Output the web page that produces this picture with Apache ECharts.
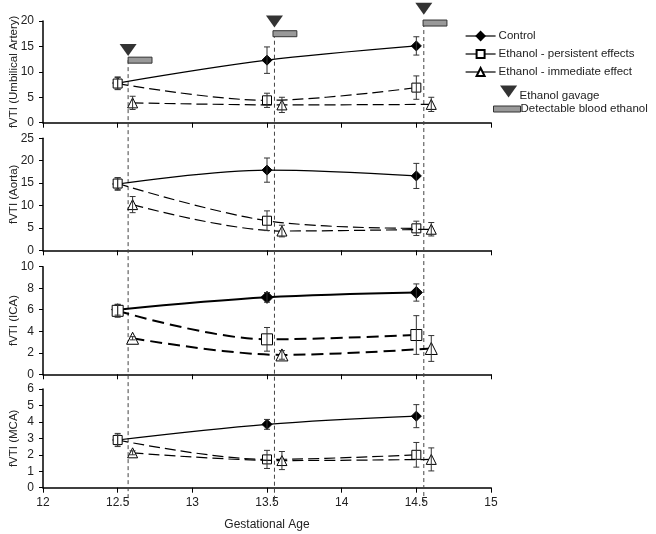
<!DOCTYPE html>
<html>
<head>
<meta charset="utf-8">
<script src="https://cdn.jsdelivr.net/npm/echarts@6/dist/echarts.min.js"></script>
<style>html,body{margin:0;padding:0;background:#fff;}#c{width:656px;height:534px;}</style>
</head>
<body>
<div id="c"></div>
<script>
// ---------- data ----------
const xMain = [12.5, 13.5, 14.5];
const xImm = [12.6, 13.6, 14.6];
const seriesNames = ['Control', 'Ethanol - persistent effects', 'Ethanol - immediate effect'];
const panelNames = ['fVTI (Umbilical Artery)', 'fVTI (Aorta)', 'fVTI (ICA)', 'fVTI (MCA)'];
const yMax = [20, 25, 10, 6];
const yStep = [5, 5, 2, 1];
const xTicks = [12, 12.5, 13, 13.5, 14, 14.5, 15];

const uaControl = [7.8, 12.3, 15.1],   uaControlErr = [1.2, 2.6, 1.8];
const uaPersist = [7.7, 4.4, 6.9],     uaPersistErr = [1.2, 1.4, 2.3];
const uaImmed   = [3.9, 3.5, 3.6],     uaImmedErr   = [1.3, 1.5, 1.4];

const aoControl = [14.8, 17.9, 16.6],  aoControlErr = [1.4, 2.7, 2.8];
const aoPersist = [14.9, 6.6, 4.9],    aoPersistErr = [1.3, 2.2, 1.6];
const aoImmed   = [10.2, 4.3, 4.7],    aoImmedErr   = [1.8, 1.3, 1.5];

const icaControl = [6.0, 7.15, 7.6],   icaControlErr = [0.5, 0.45, 0.8];
const icaPersist = [5.9, 3.25, 3.65],  icaPersistErr = [0.6, 1.1, 1.8];
const icaImmed   = [3.35, 1.8, 2.4],   icaImmedErr   = [0.15, 0.4, 1.2];

const mcaControl = [2.9, 3.85, 4.35],  mcaControlErr = [0.4, 0.3, 0.7];
const mcaPersist = [2.9, 1.72, 2.0],   mcaPersistErr = [0.3, 0.55, 0.75];
const mcaImmed   = [2.12, 1.65, 1.72], mcaImmedErr   = [0.12, 0.55, 0.7];

// ethanol events (values on the umbilical-artery scale)
const gavageX = [12.57, 13.55, 14.55];
const gavageY = [14.3, 19.9, 22.4];
const bloodStart = [12.57, 13.54, 14.545];
const bloodEnd = [12.73, 13.70, 14.705];
const bloodY = [12.3, 17.5, 19.6];
const guideBottom = -75; // vertical guide lines extend below the bottom panel

const panels = [
  [uaControl, uaControlErr, uaPersist, uaPersistErr, uaImmed, uaImmedErr],
  [aoControl, aoControlErr, aoPersist, aoPersistErr, aoImmed, aoImmedErr],
  [icaControl, icaControlErr, icaPersist, icaPersistErr, icaImmed, icaImmedErr],
  [mcaControl, mcaControlErr, mcaPersist, mcaPersistErr, mcaImmed, mcaImmedErr]
];

// ---------- layout ----------
const gridTops = [21, 138.3, 266.7, 389];
const gridHeights = [101.7, 112, 107.6, 98.7];
const FONT = 'Liberation Sans, Arial, sans-serif';
const TXT = '#222';

const grids = [], xAxes = [], yAxes = [], series = [];

function errRender(params, api) {
  const x = api.value(0), lo = api.value(1), hi = api.value(2);
  const p1 = api.coord([x, lo]), p2 = api.coord([x, hi]);
  const w = 3;
  const st = {stroke: '#333', lineWidth: 1};
  return {type: 'group', children: [
    {type: 'line', shape: {x1: p1[0], y1: p1[1], x2: p2[0], y2: p2[1]}, style: st},
    {type: 'line', shape: {x1: p1[0]-w, y1: p1[1], x2: p1[0]+w, y2: p1[1]}, style: st},
    {type: 'line', shape: {x1: p2[0]-w, y1: p2[1], x2: p2[0]+w, y2: p2[1]}, style: st}
  ]};
}

panels.forEach((p, i) => {
  const last = i === 3;
  const big = i === 2;
  grids.push({left: 43, width: 448, top: gridTops[i], height: gridHeights[i], outerBoundsMode: 'none', containLabel: false});
  xAxes.push({
    type: 'value', gridIndex: i, min: 12, max: 15, interval: 0.5,
    axisLine: {lineStyle: {color: '#000', width: 1.5}},
    axisTick: {show: true, length: 5, lineStyle: {color: '#000'}},
    axisLabel: {show: last, color: TXT, fontFamily: FONT, fontSize: 12, margin: 9},
    splitLine: {show: false},
    name: last ? 'Gestational Age' : '', nameLocation: 'middle', nameGap: 31,
    nameMoveOverlap: false,
    nameTextStyle: {color: TXT, fontFamily: FONT, fontSize: 12}
  });
  yAxes.push({
    type: 'value', gridIndex: i, min: 0, max: yMax[i], interval: yStep[i],
    axisLine: {show: true, lineStyle: {color: '#000', width: 1.5}},
    axisTick: {show: true, length: 4, lineStyle: {color: '#000'}},
    axisLabel: {color: TXT, fontFamily: FONT, fontSize: 12, margin: 9},
    splitLine: {show: false},
    name: panelNames[i], nameLocation: 'middle', nameGap: 23, nameMoveOverlap: false,
    nameTextStyle: {color: TXT, fontFamily: FONT, fontSize: 11.5}
  });
  const lw = big ? 2 : 1.2;
  const sym = big ? 11 : 9;
  const dash = big ? [12, 6] : [11, 5];
  const defs = [
    {name: seriesNames[0], xs: xMain, ys: p[0], err: p[1], symbol: 'diamond', fill: '#000', dash: 'solid', size: sym + 1},
    {name: seriesNames[1], xs: xMain, ys: p[2], err: p[3], symbol: 'rect', fill: '#fff', dash: dash, size: sym},
    {name: seriesNames[2], xs: xImm, ys: p[4], err: p[5], symbol: 'triangle', fill: '#fff', dash: dash, size: sym + 1}
  ];
  defs.forEach((d, k) => {
    series.push({
      name: d.name, type: 'line', xAxisIndex: i, yAxisIndex: i,
      data: d.xs.map((x, j) => [x, d.ys[j]]),
      smooth: 0.35, symbol: d.symbol, symbolSize: d.size, showSymbol: true,
      lineStyle: {color: '#000', width: lw, type: d.dash},
      itemStyle: {color: d.fill, borderColor: '#000', borderWidth: 1},
      z: 3 + k, animation: false
    });
    series.push({
      name: d.name + ' err', type: 'custom', xAxisIndex: i, yAxisIndex: i,
      data: d.xs.map((x, j) => [x, d.ys[j] - d.err[j], d.ys[j] + d.err[j]]),
      renderItem: errRender, z: 8, silent: true, animation: false
    });
  });
});

// vertical guide lines (on the top panel scale, unclipped)
gavageX.forEach((x, j) => {
  series.push({
    name: 'guide' + j, type: 'line', xAxisIndex: 0, yAxisIndex: 0, clip: false,
    data: [[x, bloodY[j]], [x, guideBottom]], symbol: 'none',
    lineStyle: {color: '#444', width: 1, type: [4, 3]}, z: 1, silent: true, animation: false
  });
});
series.push({
  name: 'Ethanol gavage', type: 'scatter', xAxisIndex: 0, yAxisIndex: 0, clip: false,
  data: gavageX.map((x, j) => [x, gavageY[j]]),
  symbol: 'triangle', symbolRotate: 180, symbolSize: [17, 12],
  itemStyle: {color: '#000'}, z: 10, animation: false
});
series.push({
  name: 'Detectable blood ethanol', type: 'custom', xAxisIndex: 0, yAxisIndex: 0, clip: false,
  data: bloodStart.map((x, j) => [x, bloodEnd[j], bloodY[j]]),
  renderItem: function (params, api) {
    const a = api.coord([api.value(0), api.value(2)]);
    const b = api.coord([api.value(1), api.value(2)]);
    return {type: 'rect', shape: {x: a[0], y: a[1] - 3, width: b[0] - a[0], height: 6},
      style: {fill: '#999', stroke: '#333', lineWidth: 1}};
  },
  itemStyle: {color: '#999'}, z: 10, animation: false
});

const option = {
  backgroundColor: '#fff',
  animation: false,
  grid: grids, xAxis: xAxes, yAxis: yAxes, series: series,
  legend: [
    {
      data: seriesNames, orient: 'vertical', left: 465, top: 30, itemGap: 6, padding: 0,
      itemWidth: 30, itemHeight: 10, selectedMode: false,
      lineStyle: {type: 'solid', width: 1.2},
      textStyle: {color: TXT, fontFamily: FONT, fontSize: 11.5, padding: [0, 0, 0, -2]}
    },
    {
      data: [{name: 'Ethanol gavage', icon: 'path://M0,0 L10,0 L5,7 Z', itemStyle: {color: '#000'}}],
      left: 500, top: 81, itemWidth: 18, itemHeight: 12, selectedMode: false, padding: 0,
      formatter: function (name) { return '\n' + name; },
      textStyle: {color: TXT, fontFamily: FONT, fontSize: 11.5, lineHeight: 9, padding: [0, 0, 0, -3]}
    },
    {
      data: [{name: 'Detectable blood ethanol', icon: 'rect', itemStyle: {color: '#999', borderColor: '#333', borderWidth: 1}}],
      left: 493, top: 103, itemWidth: 27, itemHeight: 6, selectedMode: false, padding: 0,
      textStyle: {color: TXT, fontFamily: FONT, fontSize: 11.5, padding: [0, 0, 0, -5]}
    }
  ]
};
const chart = echarts.init(document.getElementById('c'), null, {renderer: 'canvas'});
chart.setOption(option);
</script>
</body>
</html>
